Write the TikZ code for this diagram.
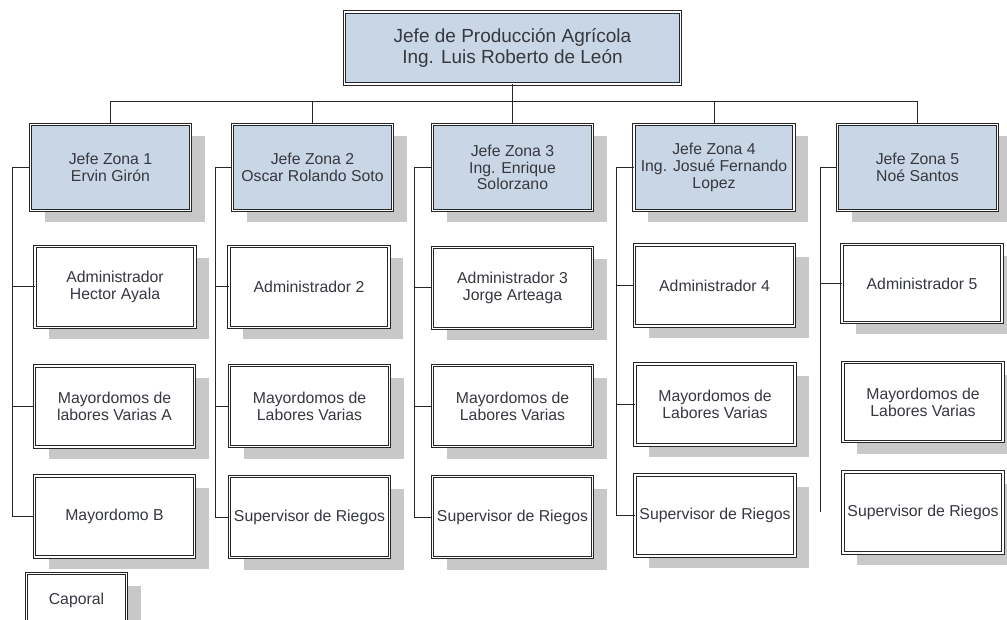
\documentclass[tikz,border=0pt]{standalone}
\usepackage{fontspec}
\setmainfont{Liberation Sans}
\usetikzlibrary{shadows}

\definecolor{jefeblue}{HTML}{C9D6E5}
\definecolor{shadegray}{HTML}{C8C8C8}
\definecolor{txtgray}{HTML}{363840}

\tikzset{
  cargo/.style={draw=black!85, double=white, double distance=1.5pt, line width=0.8pt,
    fill=white, text=txtgray, align=center, inner sep=2pt,
    minimum width=160pt, minimum height=81pt,
    font=\fontsize{15.8}{16.8}\selectfont,
    drop shadow={shadow xshift=14pt, shadow yshift=-12pt, fill=shadegray, opacity=1}},
  jefe/.style={cargo, fill=jefeblue, minimum height=86pt},
  gerente/.style={draw=black!85, double=white, double distance=1.5pt, line width=0.8pt,
    fill=jefeblue, text=txtgray, align=center, minimum width=336pt, minimum height=72pt,
    font=\fontsize{19}{21}\selectfont},
  enlace/.style={draw=black!85, line width=1pt}
}

\begin{document}
\begin{tikzpicture}[x=1pt, y=-1pt]
  \useasboundingbox (0,0) rectangle (1007,620);
  \clip (0,0) rectangle (1007,620);

  \coordinate (bus) at (0,102);
  \coordinate (t1) at (12,0);
  \coordinate (t2) at (215,0);
  \coordinate (t3) at (414,0);
  \coordinate (t4) at (616,0);
  \coordinate (t5) at (820,0);
  \coordinate (fin5) at (820,512);

  \node[gerente] (top) at (512.5,48) {Jefe de Producción Agrícola\\Ing. Luis Roberto de León};

  \node[jefe] (z1) at (110.5,167.5) {Jefe Zona 1\\Ervin Girón};
  \node[jefe] (z2) at (312.5,167.5) {Jefe Zona 2\\Oscar Rolando Soto};
  \node[jefe] (z3) at (512.5,167.5) {Jefe Zona 3\\Ing. Enrique\\Solorzano};
  \node[jefe] (z4) at (714,167.5) {Jefe Zona 4\\Ing. Josué Fernando\\Lopez};
  \node[jefe] (z5) at (917.5,167.5) {Jefe Zona 5\\Noé Santos};

  \node[cargo] (a1) at (115,287) {Administrador\\Hector Ayala};
  \node[cargo] (a2) at (309,287) {Administrador 2};
  \node[cargo] (a3) at (512.5,288) {Administrador 3\\Jorge Arteaga};
  \node[cargo] (a4) at (714.5,285.5) {Administrador 4};
  \node[cargo, minimum height=78pt] (a5) at (922,283.5) {Administrador 5};

  \node[cargo] (m1) at (114.5,406.5) {Mayordomos de\\labores Varias A};
  \node[cargo] (m2) at (309.5,406) {Mayordomos de\\Labores Varias};
  \node[cargo] (m3) at (512.5,406) {Mayordomos de\\Labores Varias};
  \node[cargo] (m4) at (715,404.5) {Mayordomos de\\Labores Varias};
  \node[cargo, minimum height=79pt] (m5) at (923,402) {Mayordomos de\\Labores Varias};

  \node[cargo] (s1) at (114.5,516.5) {Mayordomo B};
  \node[cargo] (s2) at (309.5,517) {Supervisor de Riegos};
  \node[cargo] (s3) at (512.5,517) {Supervisor de Riegos};
  \node[cargo] (s4) at (715,515.5) {Supervisor de Riegos};
  \node[cargo] (s5) at (923,512.5) {Supervisor de Riegos};

  \node[cargo, minimum width=100pt] (c1) at (76.5,614) {Caporal\\[14pt]};

  \draw[enlace] (top.south) -- (z3.north);
  \draw[enlace] (z1.north) -- (z1.north |- bus) -- (z5.north |- bus) -- (z5.north);
  \draw[enlace] (z2.north) -- (z2.north |- bus);
  \draw[enlace] (z4.north) -- (z4.north |- bus);

  \draw[enlace] (z1.west) -- (z1.west -| t1) |- (s1.west);
  \draw[enlace] (z1.west -| t1) |- (a1.west);
  \draw[enlace] (z1.west -| t1) |- (m1.west);

  \draw[enlace] (z2.west) -- (z2.west -| t2) |- (s2.west);
  \draw[enlace] (z2.west -| t2) |- (a2.west);
  \draw[enlace] (z2.west -| t2) |- (m2.west);

  \draw[enlace] (z3.west) -- (z3.west -| t3) |- (s3.west);
  \draw[enlace] (z3.west -| t3) |- (a3.west);
  \draw[enlace] (z3.west -| t3) |- (m3.west);

  \draw[enlace] (z4.west) -- (z4.west -| t4) |- (s4.west);
  \draw[enlace] (z4.west -| t4) |- (a4.west);
  \draw[enlace] (z4.west -| t4) |- (m4.west);

  \draw[enlace] (z5.west) -- (z5.west -| t5) -- (fin5);
  \draw[enlace] (z5.west -| t5) |- (a5.west);
\end{tikzpicture}
\end{document}
